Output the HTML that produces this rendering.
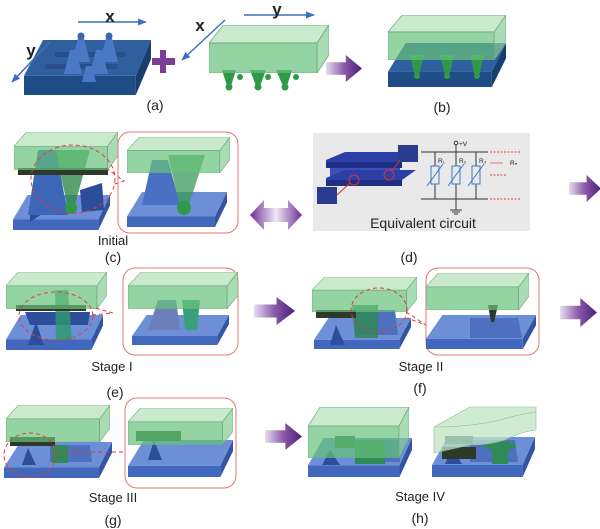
<!DOCTYPE html>
<html><head><meta charset="utf-8"><style>
html,body{margin:0;padding:0;background:#fff;}
svg{display:block;}
text{font-family:"Liberation Sans",Arial,sans-serif;fill:#222;}
</style></head><body>
<svg width="600" height="529" viewBox="0 0 600 529" xmlns="http://www.w3.org/2000/svg">
<defs>
<symbol id="bs" viewBox="0 0 100 40" preserveAspectRatio="none">
<polygon points="15,0 100,0 88,28 0,28" fill="#6c8fd8"/>
<polygon points="0,28 88,28 88,40 0,40" fill="#4268bd"/>
<polygon points="88,28 100,0 100,12 88,40" fill="#3354a3"/>
</symbol>
<symbol id="ds" viewBox="0 0 100 40" preserveAspectRatio="none">
<polygon points="15,0 100,0 88,26 0,26" fill="#2f5f9e"/>
<polygon points="0,26 88,26 88,40 0,40" fill="#1f4c86"/>
<polygon points="88,26 100,0 100,14 88,40" fill="#183e6e"/>
</symbol>
<symbol id="gs" viewBox="0 0 100 40" preserveAspectRatio="none">
<polygon points="12,0 100,0 90,15 0,15" fill="#bfe6c4" fill-opacity="0.85" stroke="#6aa77a" stroke-width="0.6"/>
<polygon points="0,15 90,15 90,40 0,40" fill="#66c27a" fill-opacity="0.7" stroke="#6aa77a" stroke-width="0.6"/>
<polygon points="90,15 100,0 100,25 90,40" fill="#85cc95" fill-opacity="0.7" stroke="#6aa77a" stroke-width="0.6"/>
</symbol>
<symbol id="pa" viewBox="0 0 40 30" preserveAspectRatio="none">
<defs><linearGradient id="pg" x1="0" x2="1"><stop offset="0" stop-color="#e8dcf0"/><stop offset="0.5" stop-color="#8a5aa8"/><stop offset="1" stop-color="#4a1f7a"/></linearGradient></defs>
<polygon points="0,8 22,8 22,0 40,15 22,30 22,22 0,22" fill="url(#pg)"/>
</symbol>
<marker id="ah" viewBox="0 0 10 10" refX="9" refY="5" markerWidth="6" markerHeight="6" orient="auto"><path d="M0,1 L10,5 L0,9 z" fill="#3b6fc4"/></marker>
</defs>

<!-- (a) left -->
<use href="#ds" x="24" y="40" width="127" height="55"/>
<g fill="#284f8c">
<rect x="55" y="52" width="70" height="5"/><rect x="45" y="64" width="72" height="5"/>
</g>
<g fill="#4b78c4">
<polygon points="78,38 84,38 90,62 72,62"/><circle cx="81" cy="36" r="3.5" fill="#3a66b0"/>
<polygon points="106,38 112,38 118,62 100,62"/><circle cx="109" cy="36" r="3.5" fill="#3a66b0"/>
<polygon points="70,50 76,50 82,74 64,74"/>
<polygon points="96,50 102,50 108,74 90,74"/>
<polygon points="86,66 92,66 96,82 82,82"/>
</g>
<line x1="78" y1="22" x2="146" y2="22" stroke="#3b6fc4" stroke-width="1.5" marker-end="url(#ah)"/>
<text x="110" y="22" font-size="17" font-weight="bold" fill="#2d5fa8" text-anchor="middle">x</text>
<line x1="50" y1="42" x2="12" y2="82" stroke="#3b6fc4" stroke-width="1.5" marker-end="url(#ah)"/>
<text x="31" y="56" font-size="17" font-weight="bold" fill="#2d5fa8" text-anchor="middle">y</text>
<rect x="160" y="50" width="6" height="23" fill="#7a3e96"/><rect x="152" y="58" width="23" height="7" fill="#7a3e96"/>
<!-- (a) right -->
<g fill="#2e9a48">
<polygon points="222,70 236,70 231,86 227,86"/><circle cx="229" cy="87" r="3.5"/>
<polygon points="250,70 266,70 260,86 256,86"/><circle cx="258" cy="87" r="3.5"/>
<polygon points="276,70 292,70 287,86 283,86"/><circle cx="285" cy="87" r="3.5"/>
<circle cx="240" cy="77" r="3"/><circle cx="268" cy="77" r="3"/><circle cx="296" cy="77" r="3"/>
</g>
<use href="#gs" x="209" y="25" width="120" height="48"/>
<line x1="244" y1="15" x2="314" y2="15" stroke="#3b6fc4" stroke-width="1.5" marker-end="url(#ah)"/>
<text x="277" y="15" font-size="17" font-weight="bold" fill="#2d5fa8" text-anchor="middle">y</text>
<line x1="225" y1="20" x2="182" y2="60" stroke="#3b6fc4" stroke-width="1.5" marker-end="url(#ah)"/>
<text x="200" y="31" font-size="17" font-weight="bold" fill="#2d5fa8" text-anchor="middle">x</text>
<use href="#pa" x="326" y="55" width="36" height="27"/>
<!-- (b) -->
<use href="#ds" x="388" y="43" width="118" height="44"/>
<g fill="#2e9a48">
<polygon points="410,55 424,55 419,76 415,76"/><circle cx="417" cy="76" r="3"/>
<polygon points="440,55 454,55 449,76 445,76"/><circle cx="447" cy="76" r="3"/>
<polygon points="470,55 484,55 479,76 475,76"/><circle cx="477" cy="76" r="3"/>
</g>
<use href="#gs" x="388" y="15" width="118" height="45"/>
<text x="155" y="110" font-size="14" text-anchor="middle">(a)</text>
<text x="442" y="112" font-size="14" text-anchor="middle">(b)</text>

<!-- (c) -->
<use href="#bs" x="13" y="195" width="97" height="35"/>
<polygon points="30,205 45,185 48,210 30,222" fill="#2b4d9a"/>
<polygon points="80,190 102,183 104,210 82,212" fill="#2b4d9a"/>
<polygon points="38,150 56,150 68,215 28,215" fill="#3d65b8"/>
<polygon points="55,150 90,150 74,208 68,208" fill="#2f8a48" fill-opacity="0.8"/><circle cx="71" cy="208" r="6" fill="#2f9a4a"/>
<rect x="18" y="168" width="90" height="7" fill="#2d3a2a"/>
<use href="#gs" x="14" y="132" width="104" height="38"/>
<ellipse cx="73" cy="179" rx="42" ry="34" fill="none" stroke="#e03a3a" stroke-dasharray="4,3"/>
<polyline points="106,168 124,181 112,185" fill="none" stroke="#e03a3a" stroke-dasharray="4,3"/>
<rect x="118" y="132" width="120" height="101" rx="12" fill="none" stroke="#e57575"/>
<use href="#bs" x="127" y="192" width="100" height="35"/>
<polygon points="152,160 168,160 180,205 142,205" fill="#4a70c4"/>
<polygon points="168,155 205,155 188,208 180,208" fill="#3a9a58" fill-opacity="0.75"/><circle cx="184" cy="208" r="7" fill="#2f9a4a"/>
<use href="#gs" x="127" y="137" width="103" height="36"/>
<text x="113" y="245" font-size="13" text-anchor="middle">Initial</text>
<text x="113" y="262" font-size="14" text-anchor="middle">(c)</text>
<!-- double arrow -->
<defs><linearGradient id="dg" x1="0" x2="1"><stop offset="0" stop-color="#6a2f90"/><stop offset="0.5" stop-color="#f0e8f6"/><stop offset="1" stop-color="#6a2f90"/></linearGradient></defs>
<polygon points="250,215 264,200 264,208 288,208 288,200 302,215 288,230 288,222 264,222 264,230" fill="url(#dg)"/>
<!-- (d) -->
<rect x="313" y="133" width="217" height="98" fill="#e9e9e9"/>
<polygon points="326,160 345,152 416,152 402,162 326,162" fill="#2b3fa6"/>
<polygon points="326,162 402,162 402,168 326,168" fill="#1f2f86"/>
<rect x="330" y="168" width="70" height="8" fill="#3a52b8"/>
<polygon points="326,178 345,170 416,170 402,180 326,180" fill="#2b3fa6"/>
<polygon points="326,180 402,180 402,186 326,186" fill="#1f2f86"/>
<rect x="398" y="145" width="20" height="17" fill="#2a3c90"/>
<rect x="317" y="187" width="20" height="17" fill="#2a3c90"/>
<circle cx="354" cy="180" r="5" fill="none" stroke="#e03030"/><circle cx="389" cy="175" r="5" fill="none" stroke="#e03030"/>
<line x1="350" y1="183" x2="337" y2="195" stroke="#e03030"/><line x1="392" y1="171" x2="400" y2="160" stroke="#e03030"/>
<g stroke="#333" stroke-width="1" fill="none">
<line x1="421" y1="152" x2="488" y2="152"/><line x1="421" y1="199" x2="488" y2="199"/>
<line x1="435" y1="152" x2="435" y2="199"/><line x1="456" y1="144" x2="456" y2="210"/><line x1="476" y1="152" x2="476" y2="199"/>
<line x1="450" y1="210" x2="462" y2="210"/><line x1="452" y1="212" x2="460" y2="212"/><line x1="454" y1="214" x2="458" y2="214"/>
</g>
<circle cx="456" cy="143" r="1.8" fill="#fff" stroke="#333"/>
<g fill="#e9e9e9" stroke="#3a7ac8">
<rect x="431" y="166" width="8" height="18"/><rect x="452" y="166" width="8" height="18"/><rect x="472" y="166" width="8" height="18"/>
<line x1="427" y1="186" x2="443" y2="164"/><line x1="448" y1="186" x2="464" y2="164"/><line x1="468" y1="186" x2="484" y2="164"/>
</g>
<g stroke="#e04040" stroke-dasharray="2,1.5"><line x1="490" y1="152" x2="520" y2="152"/><line x1="490" y1="199" x2="520" y2="199"/><line x1="490" y1="175" x2="507" y2="175"/></g>
<line x1="490" y1="163" x2="503" y2="163" stroke="#e04040" stroke-width="0.7"/>
<g font-size="6.5"><text x="438" y="163">R₁</text><text x="459" y="163">R₂</text><text x="479" y="163">R₃</text><text x="510" y="165">Rₙ</text><text x="459" y="146">+V</text></g>
<text x="423" y="228" font-size="14" text-anchor="middle">Equivalent circuit</text>
<text x="409" y="262" font-size="14" text-anchor="middle">(d)</text>
<use href="#pa" x="569" y="175" width="32" height="27"/>

<!-- (e) -->
<use href="#bs" x="6" y="315" width="97" height="35"/>
<polygon points="25,312 90,312 88,325 30,325" fill="#2b4d9a"/>
<polygon points="28,345 36,322 44,345" fill="#2b4d9a"/>
<polygon points="55,290 68,290 72,340 56,340" fill="#2f9a6a" fill-opacity="0.8"/>
<rect x="16" y="305" width="70" height="6" fill="#2d3a2a"/>
<use href="#gs" x="6" y="272" width="101" height="37"/>
<ellipse cx="56" cy="316" rx="37" ry="24" fill="none" stroke="#e03a3a" stroke-dasharray="4,3"/>
<polyline points="92,315 113,313 95,308" fill="none" stroke="#e03a3a" stroke-dasharray="4,3"/>
<rect x="123" y="268" width="115" height="87" rx="12" fill="none" stroke="#e57575"/>
<use href="#bs" x="132" y="315" width="97" height="30"/>
<polygon points="158,300 176,300 180,330 148,330" fill="#6d7fb8"/>
<polygon points="182,300 200,300 197,330 185,330" fill="#3aa07a"/>
<use href="#gs" x="128" y="272" width="110" height="37"/>
<use href="#pa" x="254" y="297" width="41" height="28"/>
<text x="112" y="371" font-size="13" text-anchor="middle">Stage I</text>
<text x="115" y="397" font-size="14" text-anchor="middle">(e)</text>

<!-- (f) -->
<use href="#bs" x="314" y="318" width="97" height="31"/>
<polygon points="330,345 336,325 345,345" fill="#2b4d9a"/>
<polygon points="355,310 395,310 398,335 355,335" fill="#4f6fbf"/>
<polygon points="352,305 378,305 378,338 355,338" fill="#2f8a58" fill-opacity="0.85"/>
<rect x="316" y="310" width="40" height="8" fill="#2d3a2a"/>
<use href="#gs" x="312" y="277" width="105" height="35"/>
<ellipse cx="379" cy="310" rx="28" ry="22" fill="none" stroke="#e03a3a" stroke-dasharray="4,3"/>
<polyline points="406,312 426,325 407,318" fill="none" stroke="#e03a3a" stroke-dasharray="4,3"/>
<rect x="426" y="268" width="113" height="87" rx="12" fill="none" stroke="#e57575"/>
<use href="#bs" x="426" y="315" width="110" height="34"/>
<polygon points="470,318 518,318 522,338 470,338" fill="#4f6fbf"/>
<polygon points="488,305 498,305 494,322 491,322" fill="#2d3a2a"/>
<use href="#gs" x="426" y="273" width="103" height="37"/>
<use href="#pa" x="560" y="298" width="37" height="29"/>
<text x="421" y="371" font-size="13" text-anchor="middle">Stage II</text>
<text x="420" y="393" font-size="14" text-anchor="middle">(f)</text>

<!-- (g) -->
<use href="#bs" x="4" y="442" width="108" height="36"/>
<polygon points="22,465 28,448 36,465" fill="#2b4d9a"/>
<polygon points="50,445 90,445 92,462 50,462" fill="#4f6fbf"/>
<rect x="52" y="445" width="16" height="18" fill="#2f8a58"/>
<rect x="10" y="437" width="45" height="9" fill="#2d3a2a"/>
<use href="#gs" x="6" y="405" width="104" height="37"/>
<ellipse cx="30" cy="455" rx="26" ry="22" fill="none" stroke="#e03a3a" stroke-dasharray="4,3"/>
<line x1="56" y1="452" x2="125" y2="452" stroke="#e03a3a" stroke-dasharray="4,3"/>
<rect x="125" y="398" width="111" height="90" rx="12" fill="none" stroke="#e57575"/>
<use href="#bs" x="128" y="440" width="105" height="37"/>
<polygon points="148,460 154,440 162,460" fill="#2b4d9a"/>
<rect x="136" y="431" width="45" height="10" fill="#2d5a30"/>
<use href="#gs" x="128" y="408" width="105" height="37"/>
<use href="#pa" x="265" y="423" width="37" height="27"/>
<text x="113" y="502" font-size="13" text-anchor="middle">Stage III</text>
<text x="113" y="525" font-size="14" text-anchor="middle">(g)</text>

<!-- (h) -->
<use href="#bs" x="308" y="438" width="104" height="39"/>
<polygon points="322,465 330,450 340,465" fill="#2b4d9a"/>
<polygon points="355,440 398,440 400,462 355,462" fill="#4f6fbf"/>
<rect x="335" y="436" width="20" height="12" fill="#2f7a48"/>
<rect x="355" y="440" width="30" height="24" fill="#2f8a58"/>
<use href="#gs" x="308" y="407" width="101" height="51"/>
<use href="#bs" x="432" y="437" width="103" height="40"/>
<polygon points="445,464 452,448 462,464" fill="#2b4d9a"/>
<polygon points="470,440 515,440 518,462 470,462" fill="#4f6fbf"/>
<rect x="442" y="447" width="34" height="12" fill="#2d3a2a"/>
<ellipse cx="500" cy="446" rx="16" ry="5" fill="#2f8a58"/>
<rect x="492" y="446" width="16" height="18" fill="#2f8a58"/>
<rect x="445" y="436" width="28" height="8" fill="#2a5a6a"/>
<path d="M434,427 L470,407 L536,407 L536,430 Q520,432 505,440 Q490,445 470,445 L434,453 Z" fill="#bfe6c4" fill-opacity="0.75" stroke="#8ab894" stroke-width="0.6"/>
<path d="M434,427 Q470,427 500,420 Q520,414 536,412" fill="none" stroke="#8ab894" stroke-width="0.6"/>
<text x="420" y="501" font-size="13" text-anchor="middle">Stage IV</text>
<text x="420" y="523" font-size="14" text-anchor="middle">(h)</text>
</svg>
</body></html>
